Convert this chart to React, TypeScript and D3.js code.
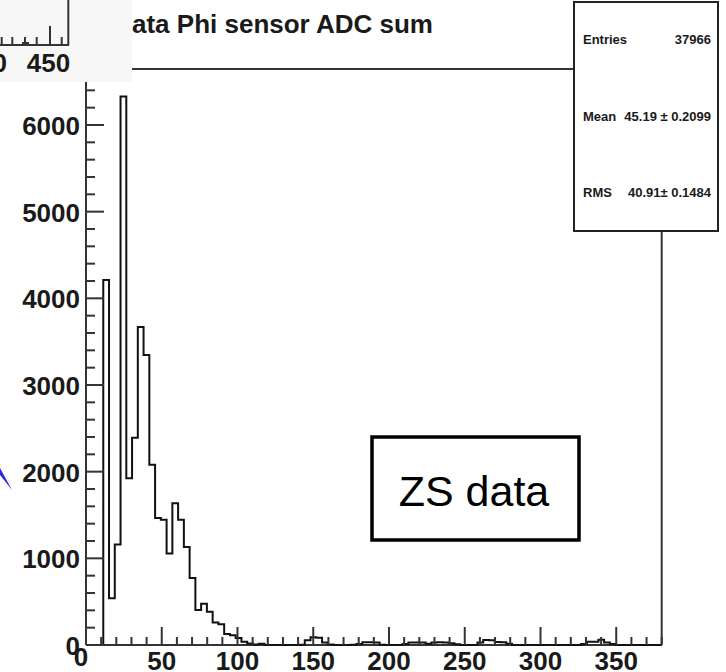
import React from "react";
import * as d3 from "d3";

// ---- data ----
const binLow = 0;
const binHigh = 380;
const binCounts = [
  0, 0, 0, 4210, 540, 1160, 6330, 1925, 2390, 3670,
  3345, 2080, 1465, 1445, 1055, 1635, 1445, 1130, 772, 405,
  475, 385, 260, 240, 128, 112, 80, 38, 18, 5,
  14, 0, 0, 0, 0, 0, 0, 4, 55, 88,
  85, 30, 6, 0, 0, 0, 2, 12, 32, 32,
  30, 2, 0, 0, 0, 12, 30, 30, 28, 14,
  30, 32, 30, 20, 10, 0, 0, 0, 30, 58,
  55, 34, 32, 14, 0, 0, 0, 0, 0, 0,
  0, 0, 0, 0, 0, 0, 12, 38, 38, 62,
  30, 12, 0, 0, 0, 0, 0, 0, 0, 0,
];
const yMax = 6646;
const xMajorTicks = [0, 50, 100, 150, 200, 250, 300, 350];
const xMinorTicks = d3.range(10, 381, 10).filter((v) => v % 50 !== 0);
const yMajorTicks = [0, 1000, 2000, 3000, 4000, 5000, 6000];
const yMinorTicks = d3.range(200, 6601, 200).filter((v) => v % 1000 !== 0);
const titleText = "ZS data Phi sensor ADC sum";
const statsLabels = ["Entries", "Mean", "RMS"];
const statsValues = ["37966", "45.19 \u00b1 0.2099", "40.91\u00b1 0.1484"];
const boxLabel = "ZS data";
// fragment of a neighbouring plot in the top-left corner
const insetTickLabels = ["0", "450"];

const W = 726;
const H = 672;
const FONT = "'Liberation Sans', Arial, Helvetica, sans-serif";
const INK = "#1a1a1a";

export default function App() {
  const x = d3.scaleLinear().domain([binLow, binHigh]).range([86, 661.7]);
  const y = d3.scaleLinear().domain([0, yMax]).range([645, 69]);
  const bw = (binHigh - binLow) / binCounts.length;

  let path = `M${x(binLow)},${y(0)}`;
  binCounts.forEach((c, i) => {
    path += `V${y(c)}H${x(binLow + (i + 1) * bw)}`;
  });
  path += `V${y(0)}`;

  const x0 = x.range()[0];
  const x1 = x.range()[1];
  const yb = y(0);
  const yt = y(yMax);

  return (
    <svg
      width={W}
      height={H}
      style={{ position: "absolute", left: 0, top: 0, background: "#fff" }}
      fontFamily={FONT}
    >
      <rect width={W} height={H} fill="#fff" />
      {/* title */}
      <text x={433} y={33} textAnchor="end" fontSize={26} fontWeight="bold" fill={INK}>
        {titleText}
      </text>

      {/* frame */}
      <line x1={x0} x2={574} y1={yt} y2={yt} stroke="#333" strokeWidth={2} />
      <line x1={x0} x2={x0} y1={yt} y2={yb} stroke="#333" strokeWidth={2} />
      <line x1={x0} x2={x1} y1={yb} y2={yb} stroke="#333" strokeWidth={2} />
      <line x1={x1} x2={x1} y1={231} y2={yb} stroke="#333" strokeWidth={2} />

      {/* histogram */}
      <path d={path} fill="none" stroke="#111" strokeWidth={2} />

      {/* y ticks */}
      {yMajorTicks.map((v) => (
        <g key={"ym" + v}>
          <line x1={x0} x2={x0 + 18} y1={y(v)} y2={y(v)} stroke="#333" strokeWidth={2} />
          <text x={80} y={y(v) + 10} textAnchor="end" fontSize={26} fontWeight="bold" fill={INK}>
            {v}
          </text>
        </g>
      ))}
      {yMinorTicks.map((v) => (
        <line key={"yn" + v} x1={x0} x2={x0 + 9} y1={y(v)} y2={y(v)} stroke="#333" strokeWidth={2} />
      ))}

      {/* x ticks */}
      {xMajorTicks.map((v) => (
        <g key={"xm" + v}>
          <line x1={x(v)} x2={x(v)} y1={yb} y2={yb - 18} stroke="#333" strokeWidth={2} />
          <text
            x={x(v) + (v === 0 ? -5 : 0)}
            y={v === 0 ? 666 : 670}
            textAnchor="middle"
            fontSize={26}
            fontWeight="bold"
            fill={INK}
          >
            {v}
          </text>
        </g>
      ))}
      {xMinorTicks.map((v) => (
        <line key={"xn" + v} x1={x(v)} x2={x(v)} y1={yb} y2={yb - 8} stroke="#333" strokeWidth={2} />
      ))}

      {/* stats box */}
      <rect x={574} y={2} width={144} height={229} fill="#fff" stroke="#222" strokeWidth={2} />
      {statsLabels.map((l, i) => (
        <g key={l}>
          <text x={583} y={44 + i * 76.5} fontSize={13} fill={INK} style={{ fontWeight: 600 }}>
            {l}
          </text>
          <text x={711} y={44 + i * 76.5} fontSize={13} textAnchor="end" fill={INK} style={{ fontWeight: 600 }}>
            {statsValues[i]}
          </text>
        </g>
      ))}

      {/* ZS data annotation box */}
      <rect x={372} y={437} width={207} height={103} fill="#fff" stroke="#000" strokeWidth={3.5} />
      <text x={474} y={506} textAnchor="middle" fontSize={43} fill="#000">
        {boxLabel}
      </text>

      {/* blue arrow tip */}
      <polygon points="0,468 12,490 0,475" fill="#2a2ae0" />

      {/* inset fragment of another plot */}
      <rect x={0} y={0} width={132} height={82} fill="#f7f7f7" />
      <line x1={68.3} x2={68.3} y1={0} y2={45} stroke="#333" strokeWidth={2} />
      <line x1={0} x2={69} y1={45} y2={45} stroke="#333" strokeWidth={2} />
      {[1.7, 12.3, 25, 36.7, 61.7].map((t) => (
        <line key={t} x1={t} x2={t} y1={45} y2={37} stroke="#333" strokeWidth={2} />
      ))}
      <line x1={50} x2={50} y1={45} y2={26} stroke="#333" strokeWidth={2} />
      <line x1={22} x2={29} y1={43} y2={43} stroke="#333" strokeWidth={2} />
      <text x={7} y={71.5} textAnchor="end" fontSize={26} fontWeight="bold" fill={INK}>
        {insetTickLabels[0]}
      </text>
      <text x={48.5} y={71.5} textAnchor="middle" fontSize={26} fontWeight="bold" fill={INK}>
        {insetTickLabels[1]}
      </text>
    </svg>
  );
}
